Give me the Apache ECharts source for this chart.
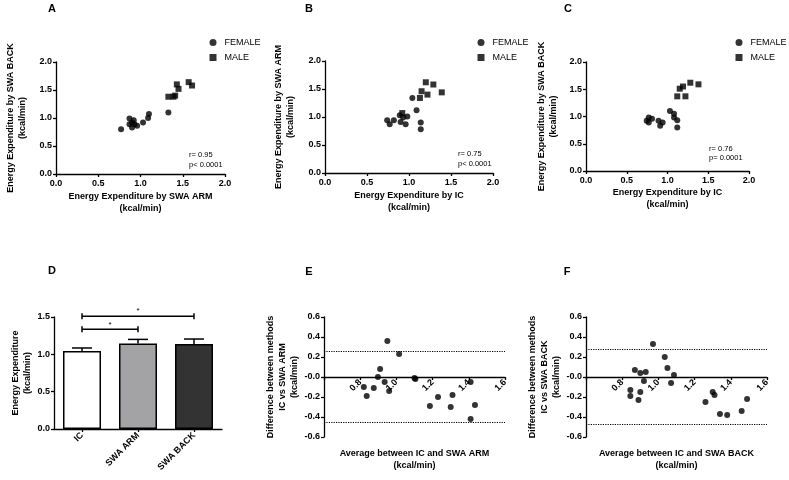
<!DOCTYPE html>
<html><head><meta charset="utf-8">
<script src="https://cdn.jsdelivr.net/npm/echarts@6/dist/echarts.min.js"></script>
<style>html,body{margin:0;padding:0;background:#fff}#c{width:789px;height:480px}</style>
</head><body><div id="c"></div>
<script>
// ---------- DATA ----------
// Panel A: x = SWA ARM, y = SWA BACK
const aFemale = [[0.77,0.80],[0.87,0.99],[0.87,0.89],[0.90,0.83],[0.92,0.96],[0.93,0.89],[0.96,0.86],[1.03,0.92],[1.09,1.00],[1.10,1.07],[1.33,1.10],[0.90,0.92]];
const aMale = [[1.33,1.38],[1.39,1.38],[1.41,1.40],[1.43,1.60],[1.45,1.52],[1.57,1.64],[1.61,1.58]];
// Panel B: x = IC, y = SWA ARM
const bFemale = [[0.74,0.94],[0.77,0.87],[0.82,0.94],[0.89,1.03],[0.90,0.91],[0.93,0.99],[0.96,0.87],[0.98,1.01],[1.04,1.34],[1.09,1.12],[1.14,0.90],[1.14,0.78]];
const bMale = [[0.92,1.07],[1.13,1.34],[1.15,1.46],[1.20,1.62],[1.22,1.40],[1.29,1.58],[1.39,1.44]];
// Panel C: x = IC, y = SWA BACK
const cFemale = [[0.745,0.92],[0.77,0.98],[0.77,0.89],[0.81,0.96],[0.89,0.92],[0.91,0.83],[0.94,0.89],[1.03,1.10],[1.08,1.05],[1.08,0.98],[1.12,0.93],[1.12,0.80]];
const cMale = [[1.12,1.37],[1.15,1.51],[1.19,1.55],[1.22,1.37],[1.28,1.62],[1.38,1.59]];
const statsA = ['r= 0.95','p< 0.0001'];
const statsB = ['r= 0.75','p< 0.0001'];
const statsC = ['r= 0.76','p= 0.0001'];
// Panel D: bars
const dCats = ['IC','SWA ARM','SWA BACK'];
const dMeans = [1.045,1.145,1.14];
const dErr = [0.04,0.055,0.065];
const dSig = [[0,2,1.51,'*'],[0,1,1.335,'*']];
// Panel E: Bland-Altman IC vs SWA ARM
const eData = [[0.82,-0.10],[0.836,-0.19],[0.875,-0.11],[0.898,0.00],[0.91,0.08],[0.935,-0.05],[0.95,0.36],[0.96,-0.14],[1.015,0.23],[1.10,-0.01],[1.105,-0.02],[1.185,-0.29],[1.23,-0.20],[1.30,-0.30],[1.31,-0.18],[1.41,-0.42],[1.41,-0.05],[1.434,-0.28]];
const eLimits = [0.26,-0.45];
// Panel F: Bland-Altman IC vs SWA BACK
const fData = [[0.845,-0.13],[0.845,-0.19],[0.87,0.07],[0.89,-0.23],[0.90,0.04],[0.90,-0.15],[0.92,-0.04],[0.93,0.05],[0.97,0.33],[1.035,0.20],[1.05,0.09],[1.07,-0.06],[1.086,0.02],[1.26,-0.25],[1.30,-0.15],[1.31,-0.18],[1.34,-0.37],[1.38,-0.38],[1.46,-0.34],[1.49,-0.22]];
const fLimits = [0.28,-0.47];

// ---------- STYLE ----------
const FF = 'Liberation Sans, Arial, Helvetica, sans-serif';
const BLK = '#000';
const line = {show:true, lineStyle:{color:BLK, width:1.3}};
const tick = {show:true, length:3, lineStyle:{color:BLK, width:1.3}};
const lab = (extra) => Object.assign({color:BLK, fontFamily:FF, fontWeight:'bold', fontSize:9, margin:4}, extra||{});
const nameStyle = {color:BLK, fontFamily:FF, fontWeight:'bold', fontSize:9, lineHeight:12};
const f1 = v => v.toFixed(1);

function vAxis(gi, min, max, interval, name, gap, labExtra, extra) {
  return Object.assign({
    gridIndex:gi, type:'value', min, max, interval,
    axisLine:line, axisTick:tick, splitLine:{show:false},
    axisLabel:lab(Object.assign({formatter:f1}, labExtra||{})),
    name, nameLocation:'middle', nameGap:gap, nameTextStyle:nameStyle
  }, extra||{});
}

const G = (left, top, width, height) => ({left, top, width, height, outerBoundsMode:'none', containLabel:false});
const grids = [
  G(56, 62, 169, 112),
  G(325, 61, 168, 112),
  G(586, 62, 163, 109),
  G(54, 317, 168, 112),
  G(324, 317, 181, 120),
  G(586, 317, 181, 120)
];

const baLine = {show:true, onZero:false, lineStyle:{color:BLK, width:1.3}};
const xAxes = [
  vAxis(0,0,2,0.5,'Energy Expenditure by SWA ARM\n(kcal/min)',17,{margin:5}),
  vAxis(1,0,2,0.5,'Energy Expenditure by IC\n(kcal/min)',17,{margin:5}),
  vAxis(2,0,2,0.5,'Energy Expenditure by IC\n(kcal/min)',16,{margin:5}),
  {gridIndex:3, type:'category', data:dCats, axisLine:line,
   axisTick:Object.assign({alignWithLabel:true}, tick),
   axisLabel:lab({rotate:45, margin:5, interval:0})},
  vAxis(4,0.6,1.6,0.2,'Average between IC and SWA ARM\n(kcal/min)',71,{rotate:45, margin:4, formatter:v=> v<0.7 ? '' : v.toFixed(1)}, {axisLine:baLine, offset:-60}),
  vAxis(5,0.6,1.6,0.2,'Average between IC and SWA BACK\n(kcal/min)',71,{rotate:45, margin:4, formatter:v=> v<0.7 ? '' : v.toFixed(1)}, {axisLine:baLine, offset:-60})
];
const baFmt = v => Math.abs(v) < 1e-9 ? '-0.0' : v.toFixed(1);
const yAxes = [
  vAxis(0,0,2,0.5,'Energy Expenditure by SWA BACK\n(kcal/min)',27),
  vAxis(1,0,2,0.5,'Energy Expenditure by SWA ARM\n(kcal/min)',28),
  vAxis(2,0,2,0.5,'Energy Expenditure by SWA BACK\n(kcal/min)',26),
  vAxis(3,0,1.5,0.5,'Energy Expenditure\n(kcal/min)',20),
  vAxis(4,-0.6,0.6,0.2,'Difference between methods\nIC vs SWA ARM\n(kcal/min)',22,{formatter:baFmt}),
  vAxis(5,-0.6,0.6,0.2,'Difference between methods\nIC vs SWA BACK\n(kcal/min)',22,{formatter:baFmt})
];

function scat(name, idx, data, symbol) {
  return {name, type:'scatter', xAxisIndex:idx, yAxisIndex:idx, data, symbol, symbolSize:6,
          itemStyle:{color:BLK}, silent:true};
}
function limitLines(vals) {
  return {silent:true, symbol:'none', label:{show:false},
          lineStyle:{color:BLK, type:'dotted', width:1.2},
          data: vals.map(v => ({yAxis:v}))};
}

const series = [
  scat('FEMALE',0,aFemale,'circle'), scat('MALE',0,aMale,'rect'),
  scat('FEMALE',1,bFemale,'circle'), scat('MALE',1,bMale,'rect'),
  scat('FEMALE',2,cFemale,'circle'), scat('MALE',2,cMale,'rect'),
  {type:'bar', xAxisIndex:3, yAxisIndex:3, barWidth:38, silent:true,
   data: dMeans.map((v,i)=>({value:v, itemStyle:{color:['#ffffff','#a3a3a6','#333333'][i], borderColor:BLK, borderWidth:1.5}}))},
  {type:'custom', xAxisIndex:3, yAxisIndex:3, silent:true, z:5,
   data: dMeans.map((m,i)=>[i,m,dErr[i]]),
   encode:{x:0, y:1},
   renderItem:(p, api)=>{
     const x=api.value(0), m=api.value(1), e=api.value(2);
     const p0=api.coord([x,m]), p1=api.coord([x,m+e]);
     return {type:'group', children:[
       {type:'line', shape:{x1:p0[0],y1:p0[1],x2:p1[0],y2:p1[1]}, style:{stroke:BLK,lineWidth:1.5}},
       {type:'line', shape:{x1:p1[0]-10,y1:p1[1],x2:p1[0]+10,y2:p1[1]}, style:{stroke:BLK,lineWidth:1.5}}
     ]};
   }},
  {type:'custom', xAxisIndex:3, yAxisIndex:3, silent:true, z:5, clip:false,
   data: dSig, encode:{x:[0,1], y:2},
   renderItem:(p, api)=>{
     const a=api.value(0), b=api.value(1), y=api.value(2);
     const p0=api.coord([a,y]), p1=api.coord([b,y]);
     return {type:'group', children:[
       {type:'line', shape:{x1:p0[0],y1:p0[1],x2:p1[0],y2:p1[1]}, style:{stroke:BLK,lineWidth:1.5}},
       {type:'line', shape:{x1:p0[0],y1:p0[1]-3,x2:p0[0],y2:p0[1]+3}, style:{stroke:BLK,lineWidth:1.5}},
       {type:'line', shape:{x1:p1[0],y1:p1[1]-3,x2:p1[0],y2:p1[1]+3}, style:{stroke:BLK,lineWidth:1.5}},
       {type:'text', x:(p0[0]+p1[0])/2, y:p0[1]-5, style:{text:dSig[p.dataIndex][3], fill:BLK, font:'8px '+FF, align:'center', verticalAlign:'middle'}}
     ]};
   }},
  Object.assign(scat('diffArm',4,eData,'circle'), {markLine:limitLines(eLimits)}),
  Object.assign(scat('diffBack',5,fData,'circle'), {markLine:limitLines(fLimits)})
];

function legendAt(x) {
  return {left:x, top:38, orient:'vertical', padding:0, data:['FEMALE','MALE'],
          itemWidth:7, itemHeight:7, itemGap:6, selectedMode:false,
          textStyle:{color:BLK, fontFamily:FF, fontSize:9, padding:[0,0,0,3]}};
}

const txt = (x,y,t,font,align) => ({type:'text', x, y, silent:true,
  style:{text:t, fill:BLK, font, align:align||'left', verticalAlign:'middle'}});
const letter = 'bold 11px ' + FF;
const small = '7.5px ' + FF;

const graphic = [
  txt(52,9,'A',letter,'center'), txt(309,9,'B',letter,'center'), txt(568,9,'C',letter,'center'),
  txt(52,271,'D',letter,'center'), txt(309,272,'E',letter,'center'), txt(567,272,'F',letter,'center'),
  txt(189,155,statsA[0],small), txt(189,165,statsA[1],small),
  txt(458,154,statsB[0],small), txt(458,164,statsB[1],small),
  txt(709,149,statsC[0],small), txt(709,158,statsC[1],small)
];

const chart = echarts.init(document.getElementById('c'), null, {renderer:'canvas'});
chart.setOption({
  animation:false, backgroundColor:'#fff',
  grid:grids, xAxis:xAxes, yAxis:yAxes, series,
  legend:[legendAt(209.5), legendAt(477.5), legendAt(735.5)],
  graphic
});
</script></body></html>
